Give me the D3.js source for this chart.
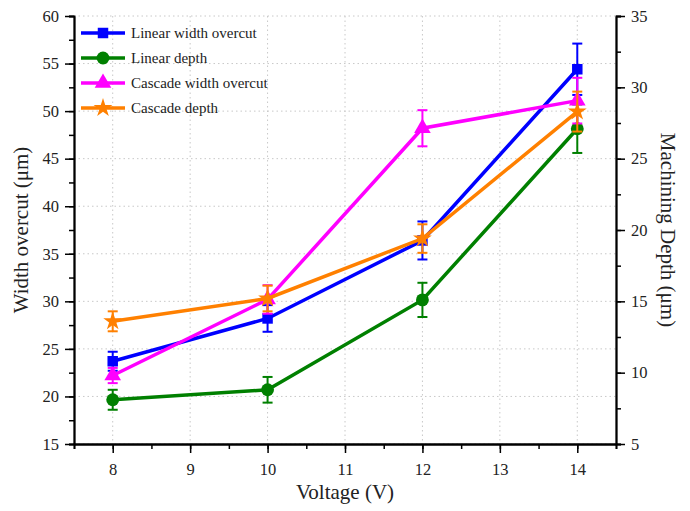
<!DOCTYPE html>
<html>
<head>
<meta charset="utf-8">
<script src="https://cdn.jsdelivr.net/npm/d3@7"></script>
<style>
  body { margin: 0; background: #fff; }
  text { font-family: "Liberation Serif", "Times New Roman", serif; }
</style>
</head>
<body>
<svg width="690" height="511"></svg>
<script>
const svg = d3.select("svg");

// data
const voltage = [8, 10, 12, 14];
const linearWidth = [23.7, 28.2, 36.4, 54.4];
const linearWidthErr = [1.0, 1.4, 2.0, 2.7];
const linearDepth = [8.1, 8.8, 15.1, 27.1];
const linearDepthErr = [0.7, 0.9, 1.2, 1.7];
const cascadeWidth = [22.2, 30.2, 48.2, 51.1];
const cascadeWidthErr = [0.8, 1.5, 1.9, 2.4];
const cascadeDepth = [13.6, 15.2, 19.4, 28.3];
const cascadeDepthErr = [0.7, 0.9, 1.0, 1.4];

const xTicks = [8, 9, 10, 11, 12, 13, 14];
const leftTicks = [15, 20, 25, 30, 35, 40, 45, 50, 55, 60];
const rightTicks = [5, 10, 15, 20, 25, 30, 35];

const plotLeft = 74, plotRight = 616, plotTop = 16, plotBottom = 444;

const x = d3.scaleLinear().domain([7.5, 14.5]).range([plotLeft, plotRight]);
const yL = d3.scaleLinear().domain([15, 60]).range([plotBottom, plotTop]);
const yR = d3.scaleLinear().domain([5, 35]).range([plotBottom, plotTop]);

// dotted grid
const grid = svg.append("g");
xTicks.forEach(t => {
  grid.append("line")
    .attr("x1", x(t)).attr("x2", x(t))
    .attr("y1", plotTop).attr("y2", plotBottom)
    .attr("stroke", "#c8c8c8").attr("stroke-width", 1)
    .attr("stroke-dasharray", "1.5,3");
});
leftTicks.forEach(t => {
  grid.append("line")
    .attr("x1", plotLeft).attr("x2", plotRight)
    .attr("y1", yL(t)).attr("y2", yL(t))
    .attr("stroke", "#c8c8c8").attr("stroke-width", 1)
    .attr("stroke-dasharray", "1.5,3");
});

// axes
function styleAxis(g) {
  g.attr("font-family", null).attr("font-size", null);
  g.selectAll("path").attr("stroke", "#000").attr("stroke-width", 1.8);
  g.selectAll("line").attr("stroke", "#000").attr("stroke-width", 1.5);
  g.selectAll("text")
    .style("font-family", "'Liberation Serif', serif")
    .style("font-size", "16.5px")
    .attr("fill", "#222");
}

function minors(domain, step) {
  const out = [];
  for (let v = domain[0]; v <= domain[1] + 1e-9; v += step) out.push(+v.toFixed(3));
  return out;
}

// minor ticks
svg.append("g").attr("transform", `translate(0,${plotBottom})`)
  .call(d3.axisBottom(x).tickValues(minors([7.5, 14.5], 0.5)).tickSize(5).tickFormat(""))
  .call(styleAxis);
svg.append("g").attr("transform", `translate(${plotLeft},0)`)
  .call(d3.axisLeft(yL).tickValues(minors([15, 60], 2.5)).tickSize(5).tickFormat(""))
  .call(styleAxis);
svg.append("g").attr("transform", `translate(${plotRight},0)`)
  .call(d3.axisRight(yR).tickValues(minors([5, 35], 2.5)).tickSize(5).tickFormat(""))
  .call(styleAxis);

// major ticks
svg.append("g").attr("transform", `translate(0,${plotBottom})`)
  .call(d3.axisBottom(x).tickValues(xTicks).tickFormat(d3.format("d")).tickSize(9).tickPadding(10).tickSizeOuter(0))
  .call(styleAxis);
svg.append("g").attr("transform", `translate(${plotLeft},0)`)
  .call(d3.axisLeft(yL).tickValues(leftTicks).tickFormat(d3.format("d")).tickSize(9).tickPadding(6).tickSizeOuter(0))
  .call(styleAxis);
svg.append("g").attr("transform", `translate(${plotRight},0)`)
  .call(d3.axisRight(yR).tickValues(rightTicks).tickFormat(d3.format("d")).tickSize(9).tickPadding(6).tickSizeOuter(0))
  .call(styleAxis);

// axis titles
svg.append("text")
  .attr("x", (plotLeft + plotRight) / 2).attr("y", 499)
  .attr("text-anchor", "middle").attr("font-size", 21).attr("fill", "#222")
  .text("Voltage (V)");
svg.append("text")
  .attr("transform", `translate(28,${(plotTop + plotBottom) / 2}) rotate(-90)`)
  .attr("text-anchor", "middle").attr("font-size", 21).attr("fill", "#222")
  .text("Width overcut (μm)");
svg.append("text")
  .attr("transform", `translate(661,${(plotTop + plotBottom) / 2}) rotate(90)`)
  .attr("text-anchor", "middle").attr("font-size", 21).attr("fill", "#222")
  .text("Machining Depth (μm)");

// series
const series = [
  { name: "Linear width overcut", vals: linearWidth, err: linearWidthErr, y: yL, color: "#0000ff", sym: d3.symbolSquare, size: 110 },
  { name: "Linear depth", vals: linearDepth, err: linearDepthErr, y: yR, color: "#008000", sym: d3.symbolCircle, size: 130 },
  { name: "Cascade width overcut", vals: cascadeWidth, err: cascadeWidthErr, y: yL, color: "#ff00ff", sym: d3.symbolTriangle, size: 120 },
  { name: "Cascade depth", vals: cascadeDepth, err: cascadeDepthErr, y: yR, color: "#ff8000", sym: d3.symbolStar, size: 110 }
];

series.forEach(s => {
  const g = svg.append("g");
  const pts = voltage.map((v, i) => ({ v, val: s.vals[i], e: s.err[i] }));
  const line = d3.line().x(d => x(d.v)).y(d => s.y(d.val));
  g.append("path").datum(pts)
    .attr("d", line)
    .attr("fill", "none").attr("stroke", s.color).attr("stroke-width", 3.5);
  // error bars
  pts.forEach(d => {
    const cx = x(d.v), y1 = s.y(d.val + d.e), y2 = s.y(d.val - d.e);
    g.append("line").attr("x1", cx).attr("x2", cx).attr("y1", y1).attr("y2", y2)
      .attr("stroke", s.color).attr("stroke-width", 2);
    [y1, y2].forEach(yy => {
      g.append("line").attr("x1", cx - 5).attr("x2", cx + 5).attr("y1", yy).attr("y2", yy)
        .attr("stroke", s.color).attr("stroke-width", 2);
    });
  });
  g.selectAll(".m").data(pts).join("path")
    .attr("transform", d => `translate(${x(d.v)},${s.y(d.val)})`)
    .attr("d", d3.symbol().type(s.sym).size(s.size))
    .attr("fill", s.color);
});

// legend
const legend = svg.append("g");
series.forEach((s, i) => {
  const ly = 33 + i * 25;
  legend.append("line")
    .attr("x1", 81).attr("x2", 125).attr("y1", ly).attr("y2", ly)
    .attr("stroke", s.color).attr("stroke-width", 3.5);
  legend.append("path")
    .attr("transform", `translate(103,${ly})`)
    .attr("d", d3.symbol().type(s.sym).size(s.size))
    .attr("fill", s.color);
  legend.append("text")
    .attr("x", 131).attr("y", ly + 5)
    .attr("font-size", 15).attr("fill", "#222")
    .text(s.name);
});
</script>
</body>
</html>
